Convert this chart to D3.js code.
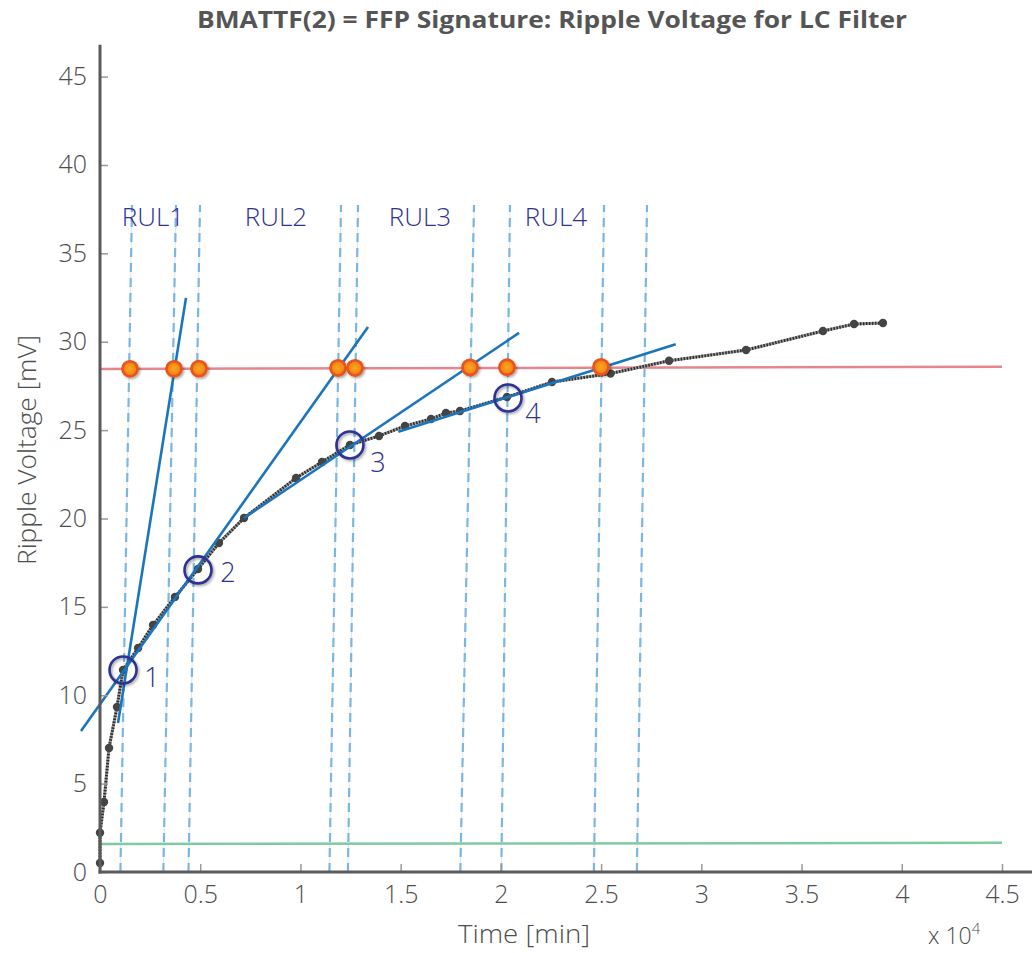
<!DOCTYPE html>
<html>
<head>
<meta charset="utf-8">
<script src="https://cdn.jsdelivr.net/npm/d3@7"></script>
<style>
  html, body { margin: 0; padding: 0; background: #fff; }
  svg { display: block; }
</style>
</head>
<body>
<div id="chart"></div>
<script>
// measured ripple voltage over time
const timePts = [0, 0, 200, 450, 850, 1150, 1900, 2645, 3740, 4890, 5935, 7185, 9780, 11075, 12470, 13920, 15215, 16515, 17260, 17960, 20305, 22550, 25470, 28390, 32230, 36070, 37620, 39060];
const ripplePts = [0.51, 2.22, 3.96, 7.02, 9.34, 11.43, 12.67, 13.97, 15.56, 17.14, 18.61, 20.03, 22.29, 23.2, 24.16, 24.67, 25.23, 25.63, 25.97, 26.08, 26.87, 27.72, 28.2, 28.92, 29.53, 30.61, 31.0, 31.06];

// tangent lines (start / end)
const tanT0 = [898, -948, 7185, 14882];
const tanV0 = [8.43, 7.98, 20.03, 24.91];
const tanT1 = [4290, 13371, 20904, 28722];
const tanV1 = [32.48, 30.83, 30.5, 29.86];

// failure threshold (red) and initial level (green), at t = 0 and 45000
const lineT = [0, 45000];
const failLevel = [28.46, 28.59];
const initLevel = [1.58, 1.65];

// crossings on threshold
const crossT = [1497, 3692, 4939, 11874, 12722, 18459, 20305, 24995];
const crossV = [28.47, 28.47, 28.48, 28.52, 28.52, 28.55, 28.56, 28.58];

// dashed RUL boundaries (bottom at 0, top at rulTopV)
const rulBottomT = [1018, 3160, 4415, 11445, 12368, 17975, 20021, 24639, 26784];
const rulTopT = [1596, 3792, 4989, 12024, 12872, 18659, 20455, 25145, 27290];
const rulTopV = 37.74;

const rulNames = ["RUL1", "RUL2", "RUL3", "RUL4"];
const rulLabelT = [2644, 8781, 15965, 22750];
const rulLabelV = 37.1;

// knee points
const kneeNames = ["1", "2", "3", "4"];
const kneeT = [1150, 4890, 12470, 20355];
const kneeV = [11.43, 17.09, 24.16, 26.82];

const xTicks = [0, 5000, 10000, 15000, 20000, 25000, 30000, 35000, 40000, 45000];
const yTicks = [0, 5, 10, 15, 20, 25, 30, 35, 40, 45];

const W = 1032, H = 953;
const AXIS = "#5a5a5a";
const BLUE = "#1b75bc";
const NAVY = "#2e3192";
const TXT = "#4d4d4d";
const FONT = "'Open Sans', 'Noto Sans', sans-serif";

const x = d3.scaleLinear().domain([0, 45000]).range([100, 1002]);
const y = d3.scaleLinear().domain([0, 45]).range([872, 76.6]);

const svg = d3.select("#chart").append("svg")
  .attr("width", W).attr("height", H)
  .style("font-family", FONT);

const defs = svg.append("defs");
const shadow = defs.append("filter").attr("id", "shadow")
  .attr("x", "-50%").attr("y", "-50%").attr("width", "200%").attr("height", "200%");
shadow.append("feDropShadow").attr("dx", 1.5).attr("dy", 1.5)
  .attr("stdDeviation", 1.3).attr("flood-color", "#000").attr("flood-opacity", 0.35);

const grad = defs.append("radialGradient").attr("id", "orange")
  .attr("cx", "50%").attr("cy", "50%").attr("r", "50%");
grad.append("stop").attr("offset", "0%").attr("stop-color", "#f9a825");
grad.append("stop").attr("offset", "70%").attr("stop-color", "#f28a12");
grad.append("stop").attr("offset", "100%").attr("stop-color", "#e8641a");

// title
svg.append("text")
  .attr("x", 552).attr("y", 28)
  .attr("text-anchor", "middle")
  .attr("textLength", 710).attr("lengthAdjust", "spacingAndGlyphs")
  .style("font-size", "23px").style("font-weight", 700)
  .style("fill", "#555")
  .text("BMATTF(2) = FFP Signature: Ripple Voltage for LC Filter");

// dashed RUL boundaries, with faint guide under each
const rul = d3.range(rulBottomT.length);
svg.append("g").selectAll("line").data(rul).join("line")
  .attr("x1", i => x(rulBottomT[i])).attr("y1", y(0))
  .attr("x2", i => x(rulTopT[i])).attr("y2", y(rulTopV))
  .attr("stroke", "#e4e4e4").attr("stroke-width", 1);
svg.append("g").selectAll("line").data(rul).join("line")
  .attr("x1", i => x(rulBottomT[i])).attr("y1", y(0))
  .attr("x2", i => x(rulTopT[i])).attr("y2", y(rulTopV))
  .attr("stroke", "#7ab6e2").attr("stroke-width", 2.2)
  .attr("stroke-dasharray", "9,6");

// threshold lines
const lvl = d3.line().x(d => x(d[0])).y(d => y(d[1]));
svg.append("path").datum(d3.zip(lineT, failLevel))
  .attr("d", lvl).attr("fill", "none")
  .attr("stroke", "#e3868e").attr("stroke-width", 2.5);
svg.append("path").datum(d3.zip(lineT, initLevel))
  .attr("d", lvl).attr("fill", "none")
  .attr("stroke", "#7fcaa2").attr("stroke-width", 2.5);

// data line (dotted)
const pts = d3.zip(timePts, ripplePts);
svg.append("path").datum(pts)
  .attr("d", lvl).attr("fill", "none")
  .attr("stroke", "#9a9a9a").attr("stroke-width", 3);
svg.append("path").datum(pts)
  .attr("d", lvl).attr("fill", "none")
  .attr("stroke", "#2b2b2b").attr("stroke-width", 3)
  .attr("stroke-dasharray", "1.5,1.5");
svg.append("g").selectAll("circle").data(pts).join("circle")
  .attr("cx", d => x(d[0])).attr("cy", d => y(d[1]))
  .attr("r", 4.2).attr("fill", "#444");

// tangents
svg.append("g").selectAll("line").data(d3.range(tanT0.length)).join("line")
  .attr("x1", i => x(tanT0[i])).attr("y1", i => y(tanV0[i]))
  .attr("x2", i => x(tanT1[i])).attr("y2", i => y(tanV1[i]))
  .attr("stroke", BLUE).attr("stroke-width", 2.6);

// crossing markers
svg.append("g").selectAll("circle").data(d3.range(crossT.length)).join("circle")
  .attr("cx", i => x(crossT[i])).attr("cy", i => y(crossV[i]))
  .attr("r", 7.6)
  .attr("fill", "url(#orange)")
  .attr("stroke", "#e9521c").attr("stroke-width", 2.6)
  .attr("filter", "url(#shadow)");

// knee circles + numbers
svg.append("g").selectAll("circle").data(d3.range(kneeT.length)).join("circle")
  .attr("cx", i => x(kneeT[i])).attr("cy", i => y(kneeV[i]))
  .attr("r", 13.5).attr("fill", "none")
  .attr("stroke", NAVY).attr("stroke-width", 2.6)
  .attr("filter", "url(#shadow)");
const kneeDx = [29, 30, 28, 25], kneeDy = [17, 12, 27, 25];
svg.append("g").selectAll("text").data(d3.range(kneeT.length)).join("text")
  .attr("x", i => x(kneeT[i]) + kneeDx[i])
  .attr("y", i => y(kneeV[i]) + kneeDy[i])
  .attr("text-anchor", "middle")
  .style("font-size", "27px").style("font-weight", 300).style("fill", NAVY)
  .text(i => kneeNames[i]);

// RUL labels
svg.append("g").selectAll("text").data(d3.range(rulNames.length)).join("text")
  .attr("x", i => x(rulLabelT[i]))
  .attr("y", y(rulLabelV) + 10)
  .attr("text-anchor", "middle")
  .style("font-size", "26px").style("font-weight", 300).style("fill", NAVY)
  .text(i => rulNames[i]);

// axes
const yAxis = svg.append("g").attr("transform", `translate(${x(0)},0)`)
  .call(d3.axisLeft(y).tickValues(yTicks).tickSize(-8).tickPadding(13));
const xAxis = svg.append("g").attr("transform", `translate(0,${y(0)})`)
  .call(d3.axisBottom(x).tickValues(xTicks).tickSize(-8).tickPadding(13)
    .tickFormat(d => d / 1e4));
[yAxis, xAxis].forEach(a => {
  a.select(".domain").remove();
  a.selectAll(".tick line").attr("stroke", "#999").attr("stroke-width", 1.5);
  a.selectAll(".tick text").style("font-size", "25px").style("font-weight", 300)
    .style("fill", TXT).style("font-family", FONT);
});
svg.append("line")
  .attr("x1", x(0)).attr("y1", y(46.8)).attr("x2", x(0)).attr("y2", y(0) + 1.5)
  .attr("stroke", AXIS).attr("stroke-width", 3);
svg.append("line")
  .attr("x1", x(0) - 1.5).attr("y1", y(0)).attr("x2", W).attr("y2", y(0))
  .attr("stroke", AXIS).attr("stroke-width", 3);

// axis titles
svg.append("text")
  .attr("transform", "translate(36,450) rotate(-90)")
  .attr("text-anchor", "middle")
  .attr("textLength", 230).attr("lengthAdjust", "spacingAndGlyphs")
  .style("font-size", "25px").style("font-weight", 300).style("fill", TXT)
  .text("Ripple Voltage [mV]");
svg.append("text")
  .attr("x", 524).attr("y", 943)
  .attr("text-anchor", "middle")
  .attr("textLength", 132).attr("lengthAdjust", "spacingAndGlyphs")
  .style("font-size", "25px").style("font-weight", 300).style("fill", TXT)
  .text("Time [min]");
const exp = svg.append("text")
  .attr("x", 928).attr("y", 944)
  .style("font-size", "23px").style("font-weight", 300).style("fill", TXT);
exp.append("tspan").text("x 10");
exp.append("tspan").attr("dy", -10).style("font-size", "15px").text("4");
</script>
</body>
</html>
